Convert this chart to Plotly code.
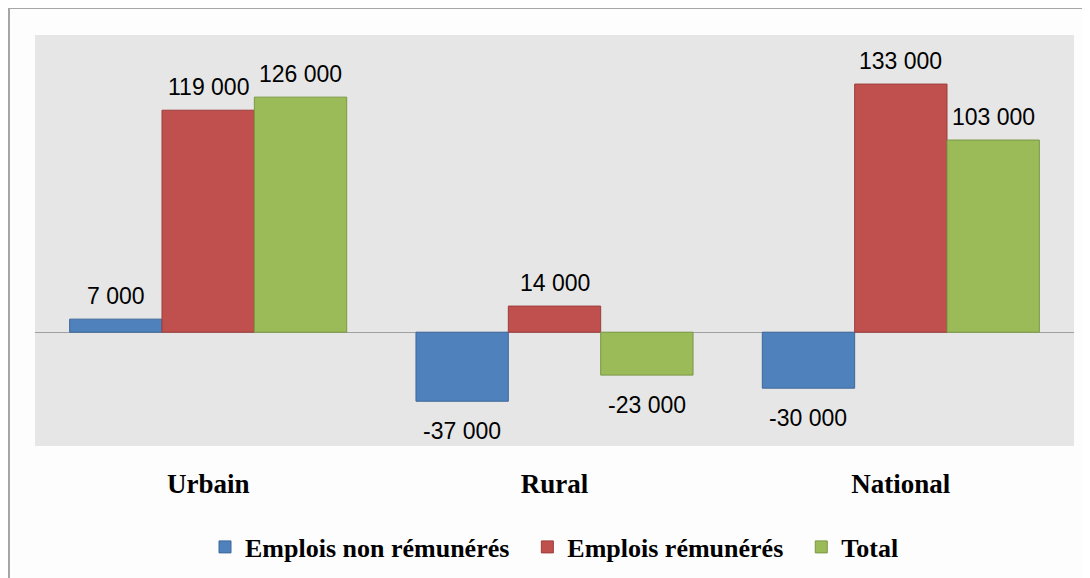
import plotly.graph_objects as go

# données
categories = ["Urbain", "Rural", "National"]
non_remuneres = [7000, -37000, -30000]
remuneres = [119000, 14000, 133000]
total = [126000, -23000, 103000]
series_names = ["Emplois non rémunérés", "Emplois rémunérés", "Total"]

colors = ["#4F81BD", "#C0504D", "#9BBB59"]
edges = ["#3d6899", "#9c3e3b", "#7a9845"]

# la page HTML a une marge de 8px autour de la figure
OFF = 8
W, H = 1090 - OFF, 578 - OFF
ml, mt = 35 - OFF, 35 - OFF
pw, ph = 1039, 411
mr, mb = W - ml - pw, H - mt - ph

fig = go.Figure()
pad = "&nbsp;" * 2
for j, (name, vals, c, e) in enumerate(zip(series_names, [non_remuneres, remuneres, total], colors, edges)):
    label = "<b>" + name + "</b>" + (pad if j < 2 else "")
    fig.add_trace(go.Bar(
        x=categories, y=vals, name=label,
        marker=dict(color=c, line=dict(color=e, width=1)),
        hoverinfo="skip"
    ))

# étiquettes de valeurs
def fmt(v):
    return f"{v:,}".replace(",", " ")

annotations = []
width = 0.8 / 3
for k, vals in enumerate([non_remuneres, remuneres, total]):
    for i, v in enumerate(vals):
        annotations.append(dict(
            x=i + (k - 1) * width, y=v, xref="x", yref="y",
            text=fmt(v), showarrow=False,
            yanchor="bottom" if v >= 0 else "top",
            yshift=8 if v >= 0 else -15,
            font=dict(family="Liberation Sans", size=23, color="#000000")
        ))

# cadre extérieur (gauche et haut), coordonnées en pixels de page
def px_x(x): return (x - OFF - ml) / pw
def px_y(y): return (H - mb - (y - OFF)) / ph

shapes = [
    dict(type="line", xref="paper", yref="paper",
         x0=px_x(9), x1=px_x(9), y0=px_y(8), y1=px_y(578),
         line=dict(color="#a6a6a6", width=2)),
    dict(type="line", xref="paper", yref="paper",
         x0=px_x(9), x1=px_x(1090), y0=px_y(8), y1=px_y(8),
         line=dict(color="#a6a6a6", width=2)),
]

fig.update_layout(
    width=W, height=H,
    margin=dict(l=ml, r=mr, t=mt, b=mb, autoexpand=False),
    paper_bgcolor="#fdfdfd",
    plot_bgcolor="#e6e6e6",
    barmode="group", bargap=0.2, bargroupgap=0,
    showlegend=True,
    legend=dict(orientation="h", x=0.5, xanchor="center", y=px_y(547), yanchor="middle",
                font=dict(family="Liberation Serif", size=26, color="#000000"),
                itemwidth=30),
    xaxis=dict(showgrid=False, zeroline=False, showline=False,
               ticks="outside", ticklen=14, tickcolor="rgba(0,0,0,0)",
               tickprefix="<b>", ticksuffix="</b>",
               tickfont=dict(family="Liberation Serif", size=27, color="#000000")),
    yaxis=dict(range=[-61000, 159300], showgrid=False, showticklabels=False,
               zeroline=True, zerolinecolor="#a0a0a0", zerolinewidth=1, showline=False),
    annotations=annotations,
    shapes=shapes,
)

fig.write_html("out.html")
